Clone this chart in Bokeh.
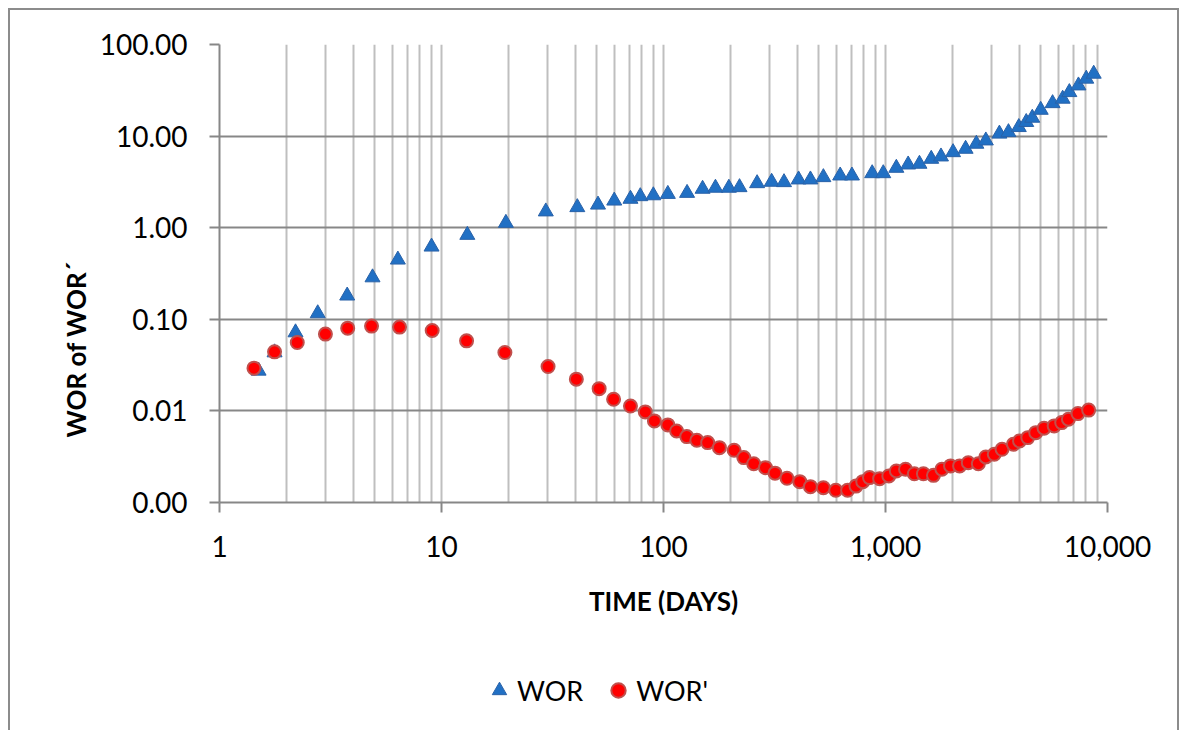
import math
from bokeh.plotting import figure
from bokeh.layouts import column
from bokeh.models import (FixedTicker, NumeralTickFormatter, Legend, Title,
                          LegendItem, Range1d, ColumnDataSource)
from bokeh.embed import file_html
from bokeh.resources import INLINE

# ---- data ----
wor_time = [1.50, 1.77, 2.20, 2.77, 3.76, 4.89, 6.36, 9.02, 13.07, 19.5,
            29.5, 40.9, 50.7, 60.0, 71.0, 78.6, 90.0, 104.6, 127.7, 150,
            171.4, 197, 220, 264, 307, 349, 406, 459, 525, 625,
            706, 871, 977, 1119, 1265, 1422, 1607, 1778, 2015, 2295,
            2566, 2831, 3259, 3580, 3985, 4305, 4584, 5002, 5658, 6281,
            6732, 7398, 8023, 8668]
wor_values = [0.0274, 0.0434, 0.0718, 0.116, 0.181, 0.286, 0.447, 0.62, 0.832, 1.125,
              1.50, 1.67, 1.78, 1.97, 2.06, 2.20, 2.25, 2.33, 2.39, 2.65,
              2.72, 2.72, 2.76, 3.05, 3.16, 3.13, 3.35, 3.35, 3.55, 3.70,
              3.70, 3.92, 3.92, 4.49, 4.88, 4.97, 5.63, 5.97, 6.65, 7.24,
              8.22, 8.93, 10.6, 11.0, 12.5, 14.2, 15.8, 19.3, 22.8, 25.5,
              30.1, 35.6, 42.2, 47.8]

worp_time = [1.43, 1.77, 2.24, 3.0, 3.78, 4.84, 6.47, 9.08, 12.97, 19.3,
             30.2, 40.5, 51.3, 59.6, 71.0, 82.8, 91.0, 104.6, 114.6, 127.3,
             141.3, 158.1, 178.6, 208, 230, 255, 288, 318, 360, 411,
             459, 525, 597, 675, 736, 790, 847, 941, 1035, 1119,
             1231, 1349, 1482, 1645, 1795, 1963, 2157, 2360, 2620, 2831,
             3090, 3350, 3768, 4015, 4376, 4751, 5178, 5751, 6220, 6666,
             7362, 8224]
worp_values = [0.0293, 0.0441, 0.0558, 0.0689, 0.0801, 0.0843, 0.0822, 0.0755, 0.0582, 0.0434,
               0.0305, 0.0222, 0.0175, 0.0134, 0.0113, 0.00975, 0.00778, 0.00703, 0.00604, 0.00524,
               0.00478, 0.00451, 0.00397, 0.00372, 0.00309, 0.00265, 0.00240, 0.00209, 0.00184, 0.00169,
               0.00149, 0.00145, 0.00136, 0.00136, 0.00151, 0.00169, 0.00187, 0.00182, 0.00195, 0.00221,
               0.00231, 0.00206, 0.00206, 0.00198, 0.00231, 0.00251, 0.00251, 0.00272, 0.00265, 0.00314,
               0.00336, 0.00381, 0.00432, 0.00470, 0.00511, 0.00579, 0.00647, 0.00686, 0.00745, 0.00811,
               0.00934, 0.0102]

x_major_ticks = [1, 10, 100, 1000, 10000]
y_major_ticks = [0.001, 0.01, 0.1, 1, 10, 100]
series_names = ["WOR", "WOR'"]
x_title = "TIME (DAYS)"
y_title = "WOR  of  WOR\u00b4"

FONT = "Lato"
GRID_DARK = "#878787"
GRID_LIGHT = "#bfbfbf"
WOR_FILL, WOR_LINE = "#2170c4", "#2a62a8"
WORP_FILL, WORP_LINE = "#ff0000", "#c0504d"

# ---------------- main chart ----------------
p = figure(width=1167, height=630, x_axis_type="log", y_axis_type="log",
           x_range=Range1d(1, 10000), y_range=Range1d(0.001, 100),
           output_backend="svg", toolbar_location=None,
           min_border_left=209, min_border_right=70, min_border_top=34,
           min_border_bottom=138)
p.outline_line_color = None
p.background_fill_color = "white"
p.border_fill_color = "white"

minor = [m * 10 ** k for k in range(4) for m in range(2, 10)]
p.xaxis.ticker = FixedTicker(ticks=x_major_ticks, minor_ticks=minor)
p.yaxis.ticker = FixedTicker(ticks=y_major_ticks, minor_ticks=[])
p.xaxis.formatter = NumeralTickFormatter(format="0,0")
p.yaxis.formatter = NumeralTickFormatter(format="0,0.00")

for ax in (p.xaxis[0], p.yaxis[0]):
    ax.axis_line_color = GRID_DARK
    ax.axis_line_width = 2
    ax.major_tick_line_color = GRID_DARK
    ax.major_tick_line_width = 2
    ax.major_tick_out = 10
    ax.major_tick_in = 0
    ax.minor_tick_line_color = None
    ax.major_label_text_font = FONT
    ax.major_label_text_font_size = "28px"
    ax.major_label_text_color = "black"
    ax.major_label_standoff = 22
p.xaxis.major_label_standoff = 23

p.xaxis.axis_label = x_title
p.xaxis.axis_label_text_font = FONT
p.xaxis.axis_label_text_font_size = "26px"
p.xaxis.axis_label_text_font_style = "bold"
p.xaxis.axis_label_text_color = "black"
p.xaxis.axis_label_standoff = 25

p.xgrid.grid_line_color = GRID_LIGHT
p.xgrid.grid_line_width = 2
p.xgrid.minor_grid_line_color = GRID_LIGHT
p.xgrid.minor_grid_line_width = 2
p.ygrid.grid_line_color = GRID_DARK
p.ygrid.grid_line_width = 2

src_wor = ColumnDataSource(dict(x=wor_time, y=wor_values))
src_worp = ColumnDataSource(dict(x=worp_time, y=worp_values))

p.scatter("x", "y", source=src_wor, marker="triangle", size=15,
          fill_color=WOR_FILL, line_color=WOR_LINE, line_width=1)
p.scatter("x", "y", source=src_worp, marker="circle", size=13,
          fill_color=WORP_FILL, line_color=WORP_LINE, line_width=2)

ytitle = Title(text=y_title, align="left", offset=65,
               text_font=FONT, text_font_size="26px", text_font_style="bold",
               text_color="black", standoff=10)
p.add_layout(ytitle, "left")

# ---------------- legend strip ----------------
lg = figure(width=1167, height=90, output_backend="svg", toolbar_location=None,
            x_range=Range1d(-2, -1), y_range=Range1d(-2, -1),
            x_axis_location=None, y_axis_location=None, min_border=0)
lg.grid.visible = False
lg.outline_line_color = None
lg.background_fill_color = "white"
lg.border_fill_color = "white"
l1 = lg.scatter("x", "y", source=src_wor, marker="triangle", size=15,
                fill_color=WOR_FILL, line_color=WOR_LINE, line_width=1)
l2 = lg.scatter("x", "y", source=src_worp, marker="circle", size=13,
                fill_color=WORP_FILL, line_color=WORP_LINE, line_width=2)

legend = Legend(items=[LegendItem(label=series_names[0], renderers=[l1]),
                       LegendItem(label=series_names[1], renderers=[l2])],
                orientation="horizontal", location=(262, 22),
                glyph_width=36, glyph_height=36, label_standoff=0, spacing=17,
                padding=0, margin=0, border_line_color=None,
                background_fill_alpha=0,
                label_text_font=FONT, label_text_font_size="27px",
                label_text_color="black")
lg.add_layout(legend, "center")

layout = column(p, lg, spacing=0)
layout.styles = {"margin-left": "8px", "margin-top": "8px",
                 "border-left": "2px solid #8c8c8c", "border-top": "2px solid #8c8c8c",
                 "border-right": "2px solid #8c8c8c"}

open("out.html", "w").write(file_html(layout, INLINE))
